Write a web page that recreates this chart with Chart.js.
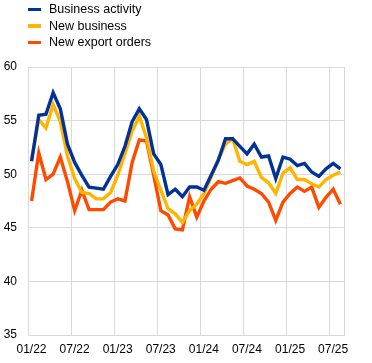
<!DOCTYPE html>
<html>
<head>
<meta charset="utf-8">
<script src="https://cdn.jsdelivr.net/npm/chart.js@4.4.1/dist/chart.umd.min.js"></script>
<style>
  html, body { margin: 0; padding: 0; background: #fff; }
  #wrap { position: relative; width: 372px; height: 363px; }
  #legend { position: absolute; left: 0; top: 1px; font-family: "Liberation Sans", Arial, sans-serif; font-size: 12.5px; color: #000; }
  .row { position: relative; height: 16.7px; }
  .mark { position: absolute; left: 28px; top: 6.7px; width: 12.5px; height: 3.4px; }
  .txt { position: absolute; left: 49px; top: 1px; white-space: nowrap; }
</style>
</head>
<body>
<div id="wrap">
  <canvas id="mycanvas" width="372" height="363"></canvas>
  <div id="legend"></div>
</div>
<script>
// monthly survey readings, 01/22 .. 08/25
var months = ['01/22','02/22','03/22','04/22','05/22','06/22','07/22','08/22','09/22','10/22','11/22','12/22',
              '01/23','02/23','03/23','04/23','05/23','06/23','07/23','08/23','09/23','10/23','11/23','12/23',
              '01/24','02/24','03/24','04/24','05/24','06/24','07/24','08/24','09/24','10/24','11/24','12/24',
              '01/25','02/25','03/25','04/25','05/25','06/25','07/25','08/25'];

var businessActivity = [51.2, 55.5, 55.6, 57.6, 56.1, 52.8, 51.1, 49.9, 48.8, 48.7, 48.6, 49.8,
                        50.9, 52.6, 54.9, 56.1, 55.1, 51.9, 50.9, 48.1, 48.6, 47.9, 48.8, 48.8,
                        48.5, 49.9, 51.3, 53.3, 53.3, 52.6, 51.9, 52.8, 51.6, 51.7, 49.6, 51.6,
                        51.4, 50.8, 51.0, 50.2, 49.8, 50.5, 51.0, 50.5];

var newBusiness = [51.4, 55.1, 54.3, 56.5, 54.9, 51.7, 49.6, 48.3, 48.2, 47.7, 47.7, 48.3,
                   49.9, 51.9, 54.0, 55.4, 53.4, 50.3, 48.5, 46.8, 46.3, 45.5, 46.6, 47.2,
                   48.2, 49.7, 51.4, 52.8, 53.3, 51.2, 50.9, 51.2, 49.7, 49.2, 48.2, 50.1,
                   50.6, 49.5, 49.5, 49.1, 48.8, 49.5, 49.9, 50.2];

var newExportOrders = [47.5, 52.0, 49.5, 50.0, 51.6, 49.3, 46.6, 48.5, 46.7, 46.7, 46.7, 47.4,
                       47.7, 47.5, 51.1, 53.2, 53.1, 49.9, 46.6, 46.2, 44.9, 44.8, 47.9, 46.0,
                       47.5, 48.6, 49.3, 49.15, 49.4, 49.65, 48.9, 48.6, 48.2, 47.4, 45.7, 47.4,
                       48.2, 48.8, 48.4, 48.8, 46.9, 47.85, 48.6, 47.2];

var tickLabels = ['01/22','07/22','01/23','07/23','01/24','07/24','01/25','07/25'];

var seriesNames = ['Business activity', 'New business', 'New export orders'];
var seriesColors = ['#003299', '#FFB400', '#FF4B00'];

// points sit mid-month between the month gridlines
function toPoints(values) {
  var pts = [];
  for (var i = 0; i < values.length; i++) {
    pts.push({ x: i + 0.5, y: values[i], month: months[i] });
  }
  return pts;
}

var allSeries = [businessActivity, newBusiness, newExportOrders];
var datasets = [];
for (var s = 0; s < allSeries.length; s++) {
  datasets.push({
    label: seriesNames[s],
    data: toPoints(allSeries[s]),
    borderColor: seriesColors[s],
    backgroundColor: seriesColors[s],
    borderWidth: 3.4,
    pointRadius: 0,
    tension: 0,
    fill: false,
    order: s   // blue drawn on top
  });
}

// legend as plain text rows
var legendHtml = '';
for (var k = 0; k < seriesNames.length; k++) {
  legendHtml += '<div class="row"><span class="mark" style="background:' + seriesColors[k] + '"></span>' +
                '<span class="txt">' + seriesNames[k] + '</span></div>';
}
document.getElementById('legend').innerHTML = legendHtml;

var gridGrey = '#d9d9d9';
var tickFont = { family: '"Liberation Sans", Arial, sans-serif', size: 12 };

var ctx = document.getElementById('mycanvas');
var lineGraph = new Chart(ctx, {
  type: 'line',
  data: { datasets: datasets },
  options: {
    responsive: false,
    animation: false,
    layout: { padding: { top: 67, right: 28, left: 0, bottom: 0 } },
    plugins: {
      legend: { display: false },
      tooltip: { enabled: false }
    },
    scales: {
      x: {
        type: 'linear',
        min: 0,
        max: months.length,
        afterFit: function(scale) { scale.height = 28; },
        // one tick every 6 months, plus the right edge of the plot
        afterBuildTicks: function(scale) {
          var t = [];
          for (var j = 0; j < tickLabels.length; j++) t.push({ value: j * 6 });
          t.push({ value: months.length });
          scale.ticks = t;
        },
        ticks: {
          autoSkip: false,
          maxRotation: 0,
          padding: 7,
          labelOffset: 3.5,   // labels centred on the month, not the gridline
          color: '#000',
          font: tickFont,
          callback: function(value) {
            if (value % 6 !== 0) return '';
            return tickLabels[value / 6] || '';
          }
        },
        grid: { color: gridGrey, lineWidth: 1, drawTicks: false },
        border: { color: gridGrey }
      },
      y: {
        min: 35,
        max: 60,
        afterFit: function(scale) { scale.width = 28; },
        ticks: { stepSize: 5, padding: 11, color: '#000', font: tickFont },
        grid: { color: gridGrey, lineWidth: 1, drawTicks: false },
        border: { color: gridGrey }
      }
    }
  }
});
</script>
</body>
</html>
